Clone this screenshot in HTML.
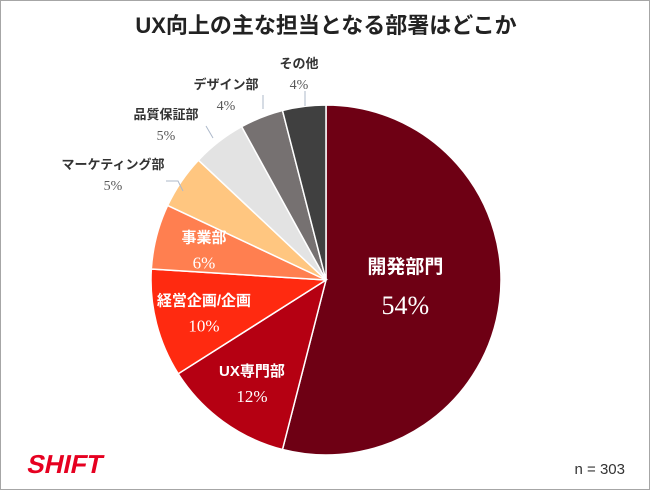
<!DOCTYPE html>
<html><head><meta charset="utf-8"><style>
body{margin:0;background:#fff}
#wrap{position:relative;width:648px;height:488px;border:1px solid #a6a6a6;overflow:hidden;font-family:"Liberation Sans","Noto Sans CJK JP",sans-serif}
</style></head><body>
<div id="wrap">
<svg id="chart" width="648" height="488">
<text x="325" y="32" text-anchor="middle" font-size="22" font-weight="bold" fill="#222" font-family="'Liberation Sans','Noto Sans CJK JP',sans-serif">UX向上の主な担当となる部署はどこか</text>
<g id="slices"></g>
<g id="labels"></g>
<text x="624" y="473" text-anchor="end" font-size="15" fill="#333" font-family="'Liberation Sans',sans-serif">n = 303</text>
<text x="0" y="0" font-size="26" font-weight="bold" fill="#e60020" font-family="'Liberation Sans',sans-serif" transform="translate(25,472) skewX(-12)">SHIFT</text>
</svg>
</div>
<script>
const categories=["開発部門","UX専門部","経営企画/企画","事業部","マーケティング部","品質保証部","デザイン部","その他"];
const values=[54,12,10,6,5,5,4,4];
const colors=["#6e0014","#b50012","#ff2a10","#ff7f50","#ffc680","#e3e3e3","#767171","#404040"];
const cx=325,cy=279,r=175;
const ns="http://www.w3.org/2000/svg";
const total=values.reduce((a,b)=>a+b,0);
const sg=document.getElementById('slices'),lg=document.getElementById('labels');
function pt(a,rr){return [cx+rr*Math.sin(a),cy-rr*Math.cos(a)];}
const inside=[true,true,true,true,false,false,false,false];
const outPos=[null,null,null,null,[112,168],[165,118],[225,88],[298,67]];
const leader=[null,null,null,null,[[165,180],[177,180],[182,190]],[[205,125],[212,137]],[[262,94],[262,108]],[[304,90],[304,105]]];
let acc=0;
values.forEach((v,i)=>{
  const a0=acc/total*2*Math.PI;acc+=v;const a1=acc/total*2*Math.PI;
  const p0=pt(a0,r),p1=pt(a1,r);const large=(a1-a0)>Math.PI?1:0;
  const p=document.createElementNS(ns,'path');
  p.setAttribute('d',`M${cx},${cy}L${p0[0]},${p0[1]}A${r},${r} 0 ${large} 1 ${p1[0]},${p1[1]}Z`);
  p.setAttribute('fill',colors[i]);p.setAttribute('stroke','#fff');p.setAttribute('stroke-width','1.5');
  
  
  sg.appendChild(p);
  const mid=(a0+a1)/2;
  let lx,ly,big=i===0,cyOff,vyOff;
  if(inside[i]){const rr=i===0?80:r*0.72;[lx,ly]=pt(mid,rr);cyOff=big?-17:-6;vyOff=big?24:20;}
  else{[lx,ly]=outPos[i];cyOff=0;vyOff=21;
    const pl=document.createElementNS(ns,'polyline');
    pl.setAttribute('points',leader[i].map(q=>q.join(',')).join(' '));
    pl.setAttribute('fill','none');pl.setAttribute('stroke','#adb9ca');pl.setAttribute('stroke-width','1');
    
    
    lg.appendChild(pl);}
  const t=document.createElementNS(ns,'text');
  t.setAttribute('x',lx);t.setAttribute('y',ly+cyOff);t.setAttribute('text-anchor','middle');
  t.setAttribute('font-size',big?19:(inside[i]?15:13));t.setAttribute('font-weight','bold');t.setAttribute('fill',inside[i]?'#fff':'#333');
  t.textContent=categories[i];
  
  
  lg.appendChild(t);
  const t2=document.createElementNS(ns,'text');
  t2.setAttribute('x',lx);t2.setAttribute('y',ly+vyOff);t2.setAttribute('text-anchor','middle');
  t2.setAttribute('font-size',big?26:(inside[i]?17:14));t2.setAttribute('fill',inside[i]?'#fff':'#595959');
  t2.setAttribute('font-family',"'Liberation Serif',serif");
  t2.textContent=v+'%';
  
  
  lg.appendChild(t2);
});
</script>
</body></html>
